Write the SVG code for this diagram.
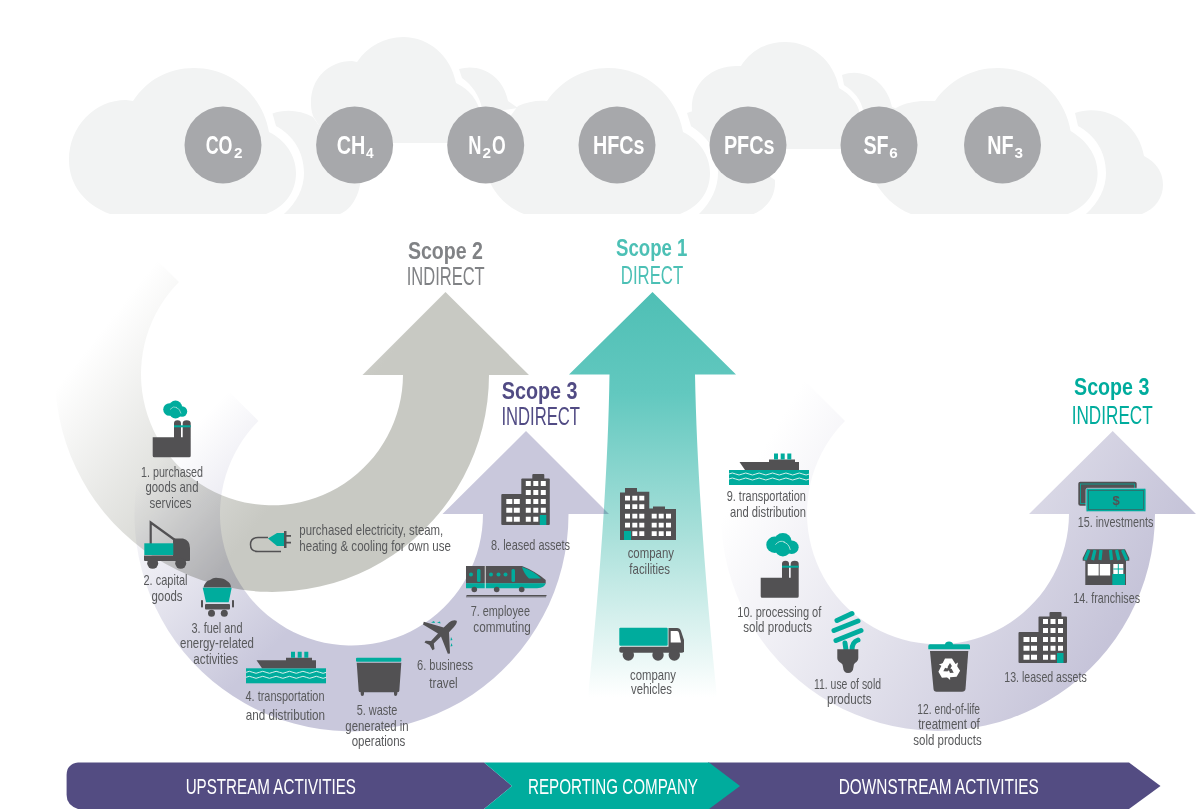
<svg xmlns="http://www.w3.org/2000/svg" width="1200" height="809" viewBox="0 0 1200 809">
<style>
text{font-family:"Liberation Sans Narrow","Liberation Sans",Arial,sans-serif}
.l{font-size:15px;fill:#58595b;text-anchor:middle}
.ls{font-size:15px;fill:#58595b}
.t{font-size:23px;font-weight:700;text-anchor:middle}
.s{font-size:26px;text-anchor:middle}
.g{font-size:25px;font-weight:700;fill:#fff}
.sub{font-size:15px}
.b{font-size:22px;fill:#fff;text-anchor:middle}
.cl{fill:#f2f3f3}
.gc{fill:#a7a8ab}
.d{fill:#525153}
.te{fill:#00ac9d}
.w{fill:#fff}
.wv{fill:none;stroke:#d7efec;stroke-width:1}
.m{mix-blend-mode:multiply}
</style>
<defs>
<linearGradient id="gr2" gradientUnits="userSpaceOnUse" x1="110" y1="320" x2="300" y2="470"><stop offset="0" stop-color="#fff"/><stop offset="1" stop-color="#c8c9c3"/></linearGradient>
<linearGradient id="gr3a" gradientUnits="userSpaceOnUse" x1="150" y1="470" x2="300" y2="620"><stop offset="0" stop-color="#fff"/><stop offset="1" stop-color="#c9c8dc"/></linearGradient>
<linearGradient id="gr3b" gradientUnits="userSpaceOnUse" x1="780" y1="420" x2="1120" y2="620"><stop offset="0" stop-color="#fff"/><stop offset="1" stop-color="#c6c4d9"/></linearGradient>
<linearGradient id="gr1" x1="0" y1="0" x2="0" y2="1"><stop offset="0" stop-color="#4fbfb5"/><stop offset=".25" stop-color="#62c8bf"/><stop offset=".6" stop-color="#a9e0da"/><stop offset="1" stop-color="#fff"/></linearGradient>
<g id="factory">
<path class="d" d="M1.500 0Q0 0 0-1.500V-20H21.300V-34Q21.300-37 24.800-37Q28.300-37 28.300-34V-20H30V-34Q30-37 34-37Q38-37 38-34V-1.500Q38 0 36.500 0Z"/>
<rect class="te" x="21.300" y="-32" width="16.700" height="2"/>
</g>
<g id="smoke">
<circle class="te" cx="6.500" cy="9" r="6.300"/><circle class="te" cx="12.500" cy="6.500" r="6.500"/><circle class="te" cx="19" cy="11" r="5.200"/><circle class="te" cx="12.500" cy="12" r="6"/>
<path d="M7 9Q10 5 14 7M13 7Q17 8 18 13" fill="none" stroke="#b5e3de" stroke-width=".7"/>
</g>
<g id="building">
<rect class="d" x="0" y="20" width="22" height="31" rx="1"/>
<rect class="d" x="20" y="4.500" width="28.500" height="46.500" rx="1"/>
<rect class="d" x="31" y="0" width="12" height="6" rx="1"/>
<g class="w">
<path d="M24.500 7h5v5h-5zM32 7h5v5h-5zM39.500 7h5v5h-5zM24.500 16h5v5h-5zM32 16h5v5h-5zM39.500 16h5v5h-5zM24.500 25h5v5h-5zM32 25h5v5h-5zM39.500 25h5v5h-5zM24.500 33.700h5v5h-5zM32 33.700h5v5h-5zM39.500 33.700h5v5h-5zM24.500 42.700h5v5h-5zM32 42.700h5v5h-5z"/>
<path d="M5 25h6v5h-6zM12.500 25h6v5h-6zM5 33.700h6v5h-6zM12.500 33.700h6v5h-6zM5 42.700h6v5h-6zM12.500 42.700h6v5h-6z"/>
</g>
<rect class="te" x="38.500" y="41" width="6.500" height="10"/>
</g>
<g id="ship">
<rect class="te" x="0" y="0" width="80" height="15"/>
<path class="wv" d="M0 4q3.300-2 6.700 0t6.700 0 6.700 0 6.700 0 6.700 0 6.700 0 6.700 0 6.700 0 6.700 0 6.700 0 6.700 0 6.700 0M0 9q3.300-2 6.700 0t6.700 0 6.700 0 6.700 0 6.700 0 6.700 0 6.700 0 6.700 0 6.700 0 6.700 0 6.700 0 6.700 0"/>
<path class="d" d="M10.500-8H40V-10.500H66V-8H70V0H16Z"/>
<path class="te" d="M45-16.500h4v6h-4zM51.700-16.500h4v6h-4zM58.300-16.500h4v6h-4z"/>
</g>
<path id="rc" d="M-4-10.500H3L6.500-5L9-6.500L7.500 .5L1-.5L3.500-2L1-6L-2.500-.5L-7.500-3.500Z"/>
</defs>
<rect width="1200" height="809" fill="#fff"/>

<g id="clouds">
<path class="cl" d="M272.500 113.500C285 109 300 110 313 117L322 130L361 170C362 190 354 208 340 214H284C297 202 304 188 304 173C304 152 293 135 276 126Z"/>
<path class="cl" d="M313 116C311 110 311 106 311 102C311 79 328 61 352 61L357 62C368 46 385 37 403 37C430 37 451 57 456 83C470 90 478 100 481 115V143H330Z"/>
<path class="cl" d="M459 69C480 63 503 75 508 101L518 108L490 112L482 108C479 95 472 85 462 78Z"/>
<path class="cl" d="M110 214C85 205 69 185 69 160C69 126 95 100 126 100L133 101C147 80 168 68 194 68C232 68 263 96 269 132C285 140 296 155 296 173C296 192 285 207 266 214Z"/>
<path class="cl" d="M518 106C527 102 537 100 547 101C561 81 583 68 608 68C646 68 677 96 683 132C699 140 710 155 710 173C710 192 699 207 680 214H524C508 208 495 195 489 180L500 130Z"/>
<path class="cl" d="M687 113C700 108 712 110 722 118L760 170L775 180C776 195 768 208 753.500 214H699C711 202 718 188 718 173C718 152 707 135 691 126Z"/>
<path class="cl" d="M692 112C690 85 710 66 737 66L741 66C751 50 767 42 785 42C812 42 834 61 839 88C850 94 858 103 860 114V149H720L708 141C703 135 697 130 691 126Z"/>
<path class="cl" d="M842 75C864 67 887 82 892 107L900 110H863C861 100 854 91 844 85Z"/>
<path class="cl" d="M1075 113C1105 103 1138 122 1144 156C1156 162 1163 172 1163 185C1163 198 1155 209 1142 214H1086C1099 202 1106 188 1106 173C1106 152 1095 135 1078 126Z"/>
<path class="cl" d="M896 108C905 103 915 101 925 101L935 101C949 81 971 68 998 68C1035 68 1065 96 1070.600 131C1086 140 1097.600 155 1097.600 173C1097.600 192 1086 207 1068 214H911C895 208 882 195 874 180L880 130Z"/>
</g>

<g id="connectors">
<path id="arrow-scope2" class="m" fill="url(#gr2)" d="M489 375H529L445.500 292L362.500 375H403A131 131 0 1 1 179 282L118 222A217 217 0 1 0 489 375Z"/>
<path id="arrow-scope1" class="m" fill="url(#gr1)" d="M652.500 292L736 374.500H695C697 480 707 600 717 697H588C598 600 608 480 609.500 374.500H569Z"/>
<path id="arrow-scope3-up" class="m" fill="url(#gr3a)" d="M568.500 514H609L526 431L442.500 514H483A131.500 131.500 0 1 1 258.500 421L198 361A217 217 0 1 0 568.500 514Z"/>
<path id="arrow-scope3-down" class="m" fill="url(#gr3b)" d="M1155 514H1196L1112.700 431L1029 514H1069A131 131 0 1 1 845 421L784.500 360.500A217 217 0 1 0 1155 514Z"/>
</g>

<g id="gas-co2"><circle class="gc" cx="223" cy="145" r="38.500"/><text class="g" y="154"><tspan x="205.700" textLength="26.800" lengthAdjust="spacingAndGlyphs">CO</tspan><tspan class="sub" x="234" y="158" textLength="8.500" lengthAdjust="spacingAndGlyphs">2</tspan></text></g>
<g id="gas-ch4"><circle class="gc" cx="354.600" cy="145" r="38.500"/><text class="g" y="154"><tspan x="336.800" textLength="28.600" lengthAdjust="spacingAndGlyphs">CH</tspan><tspan class="sub" x="366" y="158" textLength="7.600" lengthAdjust="spacingAndGlyphs">4</tspan></text></g>
<g id="gas-n2o"><circle class="gc" cx="485.700" cy="145" r="38.500"/><text class="g" y="154"><tspan x="468.200" textLength="13.200" lengthAdjust="spacingAndGlyphs">N</tspan><tspan class="sub" x="482.500" y="158" textLength="8.500" lengthAdjust="spacingAndGlyphs">2</tspan><tspan x="492" y="154" textLength="13.700" lengthAdjust="spacingAndGlyphs">O</tspan></text></g>
<g id="gas-hfcs"><circle class="gc" cx="617" cy="145" r="38.500"/><text class="g" x="592.900" y="154" textLength="51.500" lengthAdjust="spacingAndGlyphs">HFCs</text></g>
<g id="gas-pfcs"><circle class="gc" cx="748" cy="145" r="38.500"/><text class="g" x="723.900" y="154" textLength="50.700" lengthAdjust="spacingAndGlyphs">PFCs</text></g>
<g id="gas-sf6"><circle class="gc" cx="879" cy="145" r="38.500"/><text class="g" y="154"><tspan x="863.400" textLength="25.200" lengthAdjust="spacingAndGlyphs">SF</tspan><tspan class="sub" x="889.300" y="158" textLength="8.500" lengthAdjust="spacingAndGlyphs">6</tspan></text></g>
<g id="gas-nf3"><circle class="gc" cx="1002.500" cy="145" r="38.500"/><text class="g" y="154"><tspan x="987.300" textLength="26.300" lengthAdjust="spacingAndGlyphs">NF</tspan><tspan class="sub" x="1014.400" y="158" textLength="8.500" lengthAdjust="spacingAndGlyphs">3</tspan></text></g>

<g id="title-scope2" fill="#808285"><text class="t" x="445.400" y="259.300" textLength="75" lengthAdjust="spacingAndGlyphs">Scope 2</text><text class="s" x="445.700" y="285" textLength="78" lengthAdjust="spacingAndGlyphs">INDIRECT</text></g>
<g id="title-scope1" fill="#4cc0b5"><text class="t" x="651.700" y="256" textLength="71.300" lengthAdjust="spacingAndGlyphs">Scope 1</text><text class="s" x="652" y="284.300" textLength="62.300" lengthAdjust="spacingAndGlyphs">DIRECT</text></g>
<g id="title-scope3-up" fill="#514b84"><text class="t" x="539.600" y="399" textLength="75.700" lengthAdjust="spacingAndGlyphs">Scope 3</text><text class="s" x="540.700" y="425" textLength="78.600" lengthAdjust="spacingAndGlyphs">INDIRECT</text></g>
<g id="title-scope3-down" fill="#00ac9d"><text class="t" x="1111.700" y="395" textLength="75.300" lengthAdjust="spacingAndGlyphs">Scope 3</text><text class="s" x="1112.200" y="424.300" textLength="81" lengthAdjust="spacingAndGlyphs">INDIRECT</text></g>

<g id="node-1"><use href="#factory" x="152.700" y="457.300"/><use href="#smoke" x="163" y="400.500"/>
<text class="l" x="172" y="476.700" textLength="62" lengthAdjust="spacingAndGlyphs">1. purchased</text><text class="l" x="172" y="492.300" textLength="53" lengthAdjust="spacingAndGlyphs">goods and</text><text class="l" x="170.500" y="508" textLength="42" lengthAdjust="spacingAndGlyphs">services</text></g>

<g id="node-2">
<path d="M150.700 544V522.500L177 541.500" fill="none" stroke="#525153" stroke-width="2.200"/>
<path class="d" d="M173 538.500H183Q190 540 190 548V557H144V555.500H173Z"/>
<rect class="d" x="144" y="556" width="46" height="5" rx="1"/>
<rect class="te" x="144.300" y="543.300" width="29" height="11.700"/>
<circle class="d" cx="152.700" cy="563.300" r="5.500"/><circle class="d" cx="180.700" cy="563.300" r="5.500"/>
<text class="l" x="165.500" y="585" textLength="44" lengthAdjust="spacingAndGlyphs">2. capital</text><text class="l" x="167" y="600.500" textLength="31" lengthAdjust="spacingAndGlyphs">goods</text></g>

<g id="node-3">
<path class="d" d="M203.500 587.500Q205 581 210 580Q214 577 218 578Q224 578 227 581Q231 583 231 587.500Z"/>
<path class="te" d="M202.700 587.700H231.700L228.700 602.300H206Z"/>
<rect class="d" x="205" y="604" width="25" height="5.500" rx="1"/>
<rect class="d" x="201" y="600" width="2" height="7.500" rx=".8"/><rect class="d" x="232" y="600" width="2" height="7.500" rx=".8"/>
<circle class="d" cx="211.500" cy="613.300" r="3.500"/><circle class="d" cx="224.300" cy="613.300" r="3.500"/>
<text class="l" x="217" y="632.700" textLength="51" lengthAdjust="spacingAndGlyphs">3. fuel and</text><text class="l" x="217" y="648" textLength="74" lengthAdjust="spacingAndGlyphs">energy-related</text><text class="l" x="215.700" y="664" textLength="44.700" lengthAdjust="spacingAndGlyphs">activities</text></g>

<g id="node-4"><use href="#ship" x="246" y="668.300"/>
<text class="l" x="285" y="701" textLength="79" lengthAdjust="spacingAndGlyphs">4. transportation</text><text class="l" x="285.400" y="720" textLength="79.300" lengthAdjust="spacingAndGlyphs">and distribution</text></g>

<g id="node-5">
<rect class="te" x="356" y="657.700" width="45.300" height="4" rx="1"/>
<path class="d" d="M356.700 662.700H401.300L399.300 691Q399 692.300 397.300 692.300V694Q397 696 395.500 696T394 694V692.300H364V694Q364 696 362.300 696T360.700 694V692.300Q359 692.300 358.700 691Z"/>
<text class="l" x="377" y="715" textLength="40.700" lengthAdjust="spacingAndGlyphs">5. waste</text><text class="l" x="377" y="731" textLength="63.300" lengthAdjust="spacingAndGlyphs">generated in</text><text class="l" x="378.500" y="746" textLength="53.700" lengthAdjust="spacingAndGlyphs">operations</text></g>

<g id="node-6">
<path class="te" d="M431 622.500l3-1.500 1 2zM437 622.500l3-1 .5 2zM451 637l1.500 3-2 .5zM451.500 643l1 3-2 .5z"/>
<path class="d" d="M456.600 620.700C457.500 622 456 625 453 628L449 632.300L450 653.500L447.800 653.800L441 636.500L433.800 643.500L434.500 649L432.500 650.300L429.500 645L424.500 642.500L425.700 640.700L431 641L438 633.500L423 624.500L423.800 621.800L443.700 627.500L449 622.500C452 620 455 619.700 456.600 620.700Z"/>
<text class="l" x="445" y="670" textLength="56" lengthAdjust="spacingAndGlyphs">6. business</text><text class="l" x="443.500" y="688" textLength="28.400" lengthAdjust="spacingAndGlyphs">travel</text></g>

<g id="node-7">
<path class="d" d="M466 566H522Q535 571 545.700 580V583.500H466Z"/>
<path class="te" d="M466 583.300H545.700Q545 588 537 588.300H466Z"/>
<path class="te" d="M522 567Q534 571 541 578.500H529Q524 574 522 567Z"/>
<rect x="484.800" y="566" width=".8" height="22.500" class="w"/>
<circle class="te" cx="471" cy="574.500" r="2"/><rect class="te" x="477" y="569" width="3.500" height="13" rx="1.500"/>
<circle class="te" cx="491" cy="574.500" r="2"/><circle class="te" cx="498.500" cy="574.500" r="2"/><circle class="te" cx="505.500" cy="574.500" r="2"/><rect class="te" x="511.500" y="569" width="3.500" height="13" rx="1.500"/>
<circle class="d" cx="474.300" cy="589.500" r="2.800"/><circle class="d" cx="496.700" cy="589.500" r="2.800"/><circle class="d" cx="521.700" cy="589.500" r="2.800"/>
<rect class="d" x="466.500" y="595" width="80" height="1.200"/><path d="M466.500 596.700H546.500" stroke="#525153" stroke-width="1.400" stroke-dasharray="1 1"/>
<text class="l" x="500.300" y="616" textLength="59.300" lengthAdjust="spacingAndGlyphs">7. employee</text><text class="l" x="502" y="632" textLength="57.400" lengthAdjust="spacingAndGlyphs">commuting</text></g>

<g id="node-8"><use href="#building" x="501.300" y="474"/>
<text class="l" x="530.500" y="550" textLength="79" lengthAdjust="spacingAndGlyphs">8. leased assets</text></g>

<g id="node-electricity">
<path d="M268 537.500H258Q250.500 537.500 250.500 544.500Q250.500 551.500 258 551.500H281" fill="none" stroke="#525153" stroke-width="1.500"/>
<path class="te" d="M268 538.500L277 533H284V546H277Z"/>
<path class="d" d="M284 531h2.500v4H291v1.800h-4.500v5H291v1.800h-4.500v4.400H284Z"/>
<text class="ls" x="299.300" y="535" textLength="144" lengthAdjust="spacingAndGlyphs">purchased electricity, steam,</text><text class="ls" x="299.300" y="551" textLength="151.700" lengthAdjust="spacingAndGlyphs">heating &amp; cooling for own use</text></g>

<g id="node-facilities">
<path class="d" d="M620 492.500H625V488H637V491.700H649.300V508.500H653V506.500H665V509H676V540H620Z"/>
<path class="w" d="M625 495.700h5v4.700h-5zM632.300 495.700h5v4.700h-5zM639.300 495.700h5v4.700h-5zM625 504.300h5v4.700h-5zM632.300 504.300h5v4.700h-5zM639.300 504.300h5v4.700h-5zM625 513.700h5v4.700h-5zM632.300 513.700h5v4.700h-5zM639.300 513.700h5v4.700h-5zM625 522.700h5v4.700h-5zM632.300 522.700h5v4.700h-5zM639.300 522.700h5v4.700h-5zM632.300 531.300h5v4.700h-5zM639.300 531.300h5v4.700h-5zM651.700 513.700h5v4.700h-5zM658.700 513.700h5v4.700h-5zM666 513.700h5v4.700h-5zM651.700 522.700h5v4.700h-5zM658.700 522.700h5v4.700h-5zM666 522.700h5v4.700h-5zM651.700 531.300h5v4.700h-5zM658.700 531.300h5v4.700h-5zM666 531.300h5v4.700h-5z"/>
<rect class="te" x="624" y="531" width="7" height="9"/>
<text class="l" x="650.800" y="558.300" textLength="46.300" lengthAdjust="spacingAndGlyphs">company</text><text class="l" x="649.700" y="574.300" textLength="40.700" lengthAdjust="spacingAndGlyphs">facilities</text></g>

<g id="node-vehicles">
<rect class="te" x="619.300" y="627.700" width="48.400" height="18" rx="1"/>
<path class="d" d="M668.500 628H677Q680 628 681 631L684 640V652H668.500Z"/>
<rect class="d" x="619.300" y="646.700" width="64.700" height="6" rx="2"/>
<path class="w" d="M670.700 631H677Q678.500 631 679 633L681 642.500H670.700Z"/>
<circle class="d" cx="628.300" cy="655" r="5.700"/><circle class="d" cx="658" cy="655" r="5.700"/><circle class="d" cx="674.300" cy="655" r="5.700"/>
<text class="l" x="653" y="680" textLength="46" lengthAdjust="spacingAndGlyphs">company</text><text class="l" x="651.500" y="694.300" textLength="41" lengthAdjust="spacingAndGlyphs">vehicles</text></g>

<g id="node-9"><use href="#ship" x="729" y="470"/>
<text class="l" x="766.300" y="501" textLength="79.300" lengthAdjust="spacingAndGlyphs">9. transportation</text><text class="l" x="768" y="517" textLength="76" lengthAdjust="spacingAndGlyphs">and distribution</text></g>

<g id="node-10"><use href="#factory" x="760.700" y="597.700"/><use href="#smoke" transform="translate(766 533) scale(1.350 1.300)"/>
<text class="l" x="779.300" y="616.700" textLength="84" lengthAdjust="spacingAndGlyphs">10. processing of</text><text class="l" x="777.700" y="632" textLength="68.700" lengthAdjust="spacingAndGlyphs">sold products</text></g>

<g id="node-11">
<path d="M852 613.500L837 620.500M834 630.500L858 621M836 640.500L861 630.500M846 650L845 643M852 650Q852 642 858 640" fill="none" stroke="#00ac9d" stroke-width="5" stroke-linecap="round"/>
<path class="d" d="M837.300 649.300H858.300V658Q858.300 661 855 663Q853.500 664 853.500 667Q853 673 848 673Q843.500 673 843 667Q843 664 841 663Q837.300 661 837.300 658Z"/>
<text class="l" x="847.500" y="689" textLength="67" lengthAdjust="spacingAndGlyphs">11. use of sold</text><text class="l" x="849.300" y="704" textLength="44.700" lengthAdjust="spacingAndGlyphs">products</text></g>

<g id="node-12">
<path class="te" d="M930 644.300H945Q945.500 641.500 949 641.500T953 644.300H968.500Q970 644.300 970 646V649.300H928.300V646Q928.300 644.300 930 644.300Z"/>
<path class="d" d="M930 651H968.300L965.500 689Q965 691.700 962 691.700H936.500Q933.800 691.700 933.500 689Z"/>
<g class="w" transform="translate(949 669)"><use href="#rc"/><use href="#rc" transform="rotate(120)"/><use href="#rc" transform="rotate(240)"/></g>
<text class="l" x="948.700" y="714" textLength="62.700" lengthAdjust="spacingAndGlyphs">12. end-of-life</text><text class="l" x="949" y="729" textLength="61.700" lengthAdjust="spacingAndGlyphs">treatment of</text><text class="l" x="947.500" y="745" textLength="68.400" lengthAdjust="spacingAndGlyphs">sold products</text></g>

<g id="node-13"><use href="#building" x="1018.500" y="612"/>
<text class="l" x="1045.500" y="682" textLength="82.400" lengthAdjust="spacingAndGlyphs">13. leased assets</text></g>

<g id="node-14">
<rect class="d" x="1085.300" y="559" width="40.700" height="26"/>
<rect class="w" x="1087.700" y="564" width="11" height="11.500"/><rect class="w" x="1099.700" y="564" width="10.500" height="11.500"/>
<rect class="w" x="1113.300" y="564" width="10" height="10"/><path d="M1118.300 564V574M1113.300 569H1123.300" stroke="#00ac9d" stroke-width="1"/>
<rect class="te" x="1112.300" y="574" width="12.700" height="11"/>
<path class="d" d="M1087 549.300H1125L1129.300 558V560.700H1082.700V558Z"/>
<path d="M1089 550L1085 560M1095 550L1092.500 560M1101 550L1100 560M1110.500 550L1111.500 560M1116.500 550L1119 560M1122.500 550L1127 560" stroke="#00ac9d" stroke-width="3.200" fill="none"/>
<text class="l" x="1106.700" y="602.700" textLength="66.700" lengthAdjust="spacingAndGlyphs">14. franchises</text></g>

<g id="node-15">
<rect class="d" x="1078.300" y="481.700" width="58.400" height="24" rx="2"/>
<rect x="1080.500" y="484" width="54" height="19.500" fill="none" stroke="#00ac9d" stroke-width=".8"/>
<rect class="te" x="1086" y="488.300" width="60" height="23.400" rx="1.500" stroke="#c9c8dc" stroke-width=".8"/>
<rect x="1088.500" y="490.500" width="55" height="19" fill="none" stroke="#3d5f60" stroke-width=".7"/>
<text x="1116" y="505" font-size="13" font-weight="700" fill="#525153" text-anchor="middle">$</text>
<text class="l" x="1115.500" y="527" textLength="75.600" lengthAdjust="spacingAndGlyphs">15. investments</text></g>

<g id="banner">
<path fill="#534c82" d="M78 762.500H484L512 786L484 809H78Q66.600 805 66.600 795V775Q66.600 764 78 762.500Z"/>
<path fill="#534c82" d="M708 762.500H1129L1160.500 786L1129 809H708Z"/>
<path class="te" d="M484 762.500H709L740 786L709 809H484L512 786Z"/>
<text class="b" x="270.800" y="794.300" textLength="170.300" lengthAdjust="spacingAndGlyphs">UPSTREAM ACTIVITIES</text>
<text class="b" x="613" y="794.300" textLength="170" lengthAdjust="spacingAndGlyphs">REPORTING COMPANY</text>
<text class="b" x="938.700" y="794.300" textLength="200" lengthAdjust="spacingAndGlyphs">DOWNSTREAM ACTIVITIES</text>
</g>
</svg>
